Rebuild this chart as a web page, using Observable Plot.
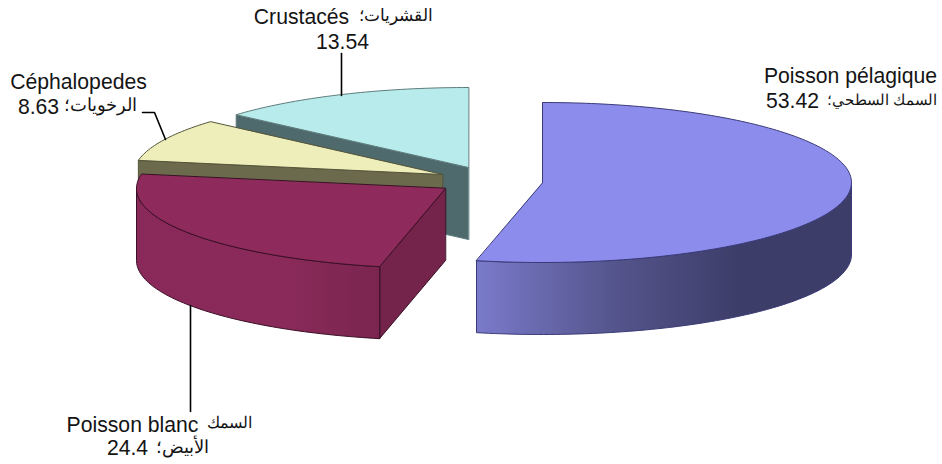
<!DOCTYPE html>
<html><head><meta charset="utf-8">
<script src="https://cdn.jsdelivr.net/npm/d3@7"></script>
<script src="https://cdn.jsdelivr.net/npm/@observablehq/plot@0.6"></script>
<style>html,body{margin:0;padding:0;background:#fff}svg{display:block}</style>
</head><body><div id="chart"></div>
<script>
const namesFr = ["Poisson pélagique", "Poisson blanc", "Céphalopedes", "Crustacés"];
const namesAr = ["السمك السطحي؛", "السمك", "الرخويات؛", "القشريات؛"];
const namesAr2 = ["", "الأبيض؛", "", ""];
const values = [53.42, 24.4, 8.63, 13.54];

const centerX = [542, 445, 442, 468];
const centerY = [182, 188, 174, 167];
const topFill = ["#8c8ced", "#8e2a5c", "#eeeebb", "#b8ecec"];
const sideFill = ["url(#blueSide)", "url(#maroonSide)", "#6c6a4c", "#4f6a6c"];
const cutFill = [null, "#74244a", "#6c6a4c", "#4f6a6c"];
const edge = ["#3a3a78", "#3a1026", "#55553a", "#5f7c7c"];

const rx = 309, ry = 80, depth = 72;
const total = d3.sum(values);
const stops = d3.cumsum(values).map(v => v / total * 2 * Math.PI);
const starts = [0, ...stops.slice(0, -1)];

const rim = (i, t, drop = 0) => ({
  x: centerX[i] + rx * Math.sin(t),
  y: centerY[i] - ry * Math.cos(t) + drop
});
const arc = (i, a, b, drop = 0) => {
  const n = Math.max(2, Math.ceil(Math.abs(b - a) / 0.02));
  return d3.range(n + 1).map(k => rim(i, a + (b - a) * k / n, drop));
};
const apex = (i, drop = 0) => ({x: centerX[i], y: centerY[i] + drop});

const topFace = i => [apex(i), ...arc(i, starts[i], stops[i])];
const wall = i => {
  const a = Math.max(starts[i], Math.PI / 2), b = Math.min(stops[i], 3 * Math.PI / 2);
  if (a >= b) return null;
  return [...arc(i, a, b), ...arc(i, b, a, depth)];
};
const cut = (i, t) => [apex(i), rim(i, t), rim(i, t, depth), apex(i, depth)];

const poly = (pts, fill, stroke, sw = 1) => Plot.line(pts, {
  x: "x", y: "y", fill, stroke, strokeWidth: sw, curve: "linear-closed", strokeLinejoin: "round"
});

const sliceMarks = i => {
  const m = [];
  if (cutFill[i]) m.push(poly(cut(i, starts[i]), cutFill[i], edge[i]));
  const w = wall(i);
  if (w) m.push(poly(w, sideFill[i], edge[i]));
  m.push(poly(topFace(i), topFill[i], edge[i]));
  return m;
};

const defs = () => {
  const d = d3.create("svg:defs");
  const grad = (id, x1, x2, st) => {
    const g = d.append("linearGradient").attr("id", id).attr("gradientUnits", "userSpaceOnUse")
      .attr("x1", x1).attr("x2", x2).attr("y1", 0).attr("y2", 0);
    st.forEach(([o, c]) => g.append("stop").attr("offset", o).attr("stop-color", c));
  };
  grad("blueSide", 476, 851, [[0, "#7a7acb"], [0.35, "#56568f"], [0.7, "#3c3d68"], [1, "#3c3d68"]]);
  grad("maroonSide", 137, 380, [[0, "#88295a"], [0.6, "#8a2a5a"], [1, "#7a254f"]]);
  return d.node();
};

const leaders = [
  [{x: 341, y: 53}, {x: 341, y: 95}],
  [{x: 142, y: 112}, {x: 154, y: 112}, {x: 165, y: 139}],
  [{x: 190, y: 305}, {x: 190, y: 411}]
];

const frags = [
  {s: namesFr[0], x: 850, y: 82, f: 21.2},
  {s: namesAr[0], x: 881.5, y: 104, f: 14.5},
  {s: String(values[0]), x: 792, y: 107, f: 21.2},
  {s: namesFr[3], x: 301, y: 23, f: 21.2},
  {s: namesAr[3], x: 395, y: 20, f: 17},
  {s: String(values[3]), x: 342, y: 48, f: 21.2},
  {s: namesFr[2], x: 78, y: 88, f: 21.2},
  {s: namesAr[2], x: 100, y: 110, f: 18},
  {s: String(values[2]), x: 38, y: 113, f: 21.2},
  {s: namesFr[1], x: 132, y: 431, f: 21.2},
  {s: namesAr[1], x: 229, y: 427, f: 15.5},
  {s: namesAr2[1], x: 182, y: 452, f: 18},
  {s: String(values[1]), x: 127, y: 454, f: 21.2}
];

const chart = Plot.plot({
  width: 942, height: 464,
  margin: 0,
  x: {domain: [0, 942], range: [0, 942], axis: null},
  y: {domain: [0, 464], range: [0, 464], axis: null},
  style: {background: "#fff", fontFamily: "'Liberation Sans', Arial, sans-serif"},
  marks: [
    defs,
    ...sliceMarks(3),
    ...sliceMarks(2),
    ...sliceMarks(1),
    ...sliceMarks(0),
    ...leaders.map(l => Plot.line(l, {x: "x", y: "y", stroke: "#000", strokeWidth: 1.6})),
    ...d3.groups(frags, d => d.f).map(([f, rows]) => Plot.text(rows, {
      x: "x", y: "y", text: "s", fontSize: f, textAnchor: "middle", lineAnchor: "bottom", fill: "#141414"
    }))
  ]
});
document.getElementById("chart").append(chart);
</script></body></html>
